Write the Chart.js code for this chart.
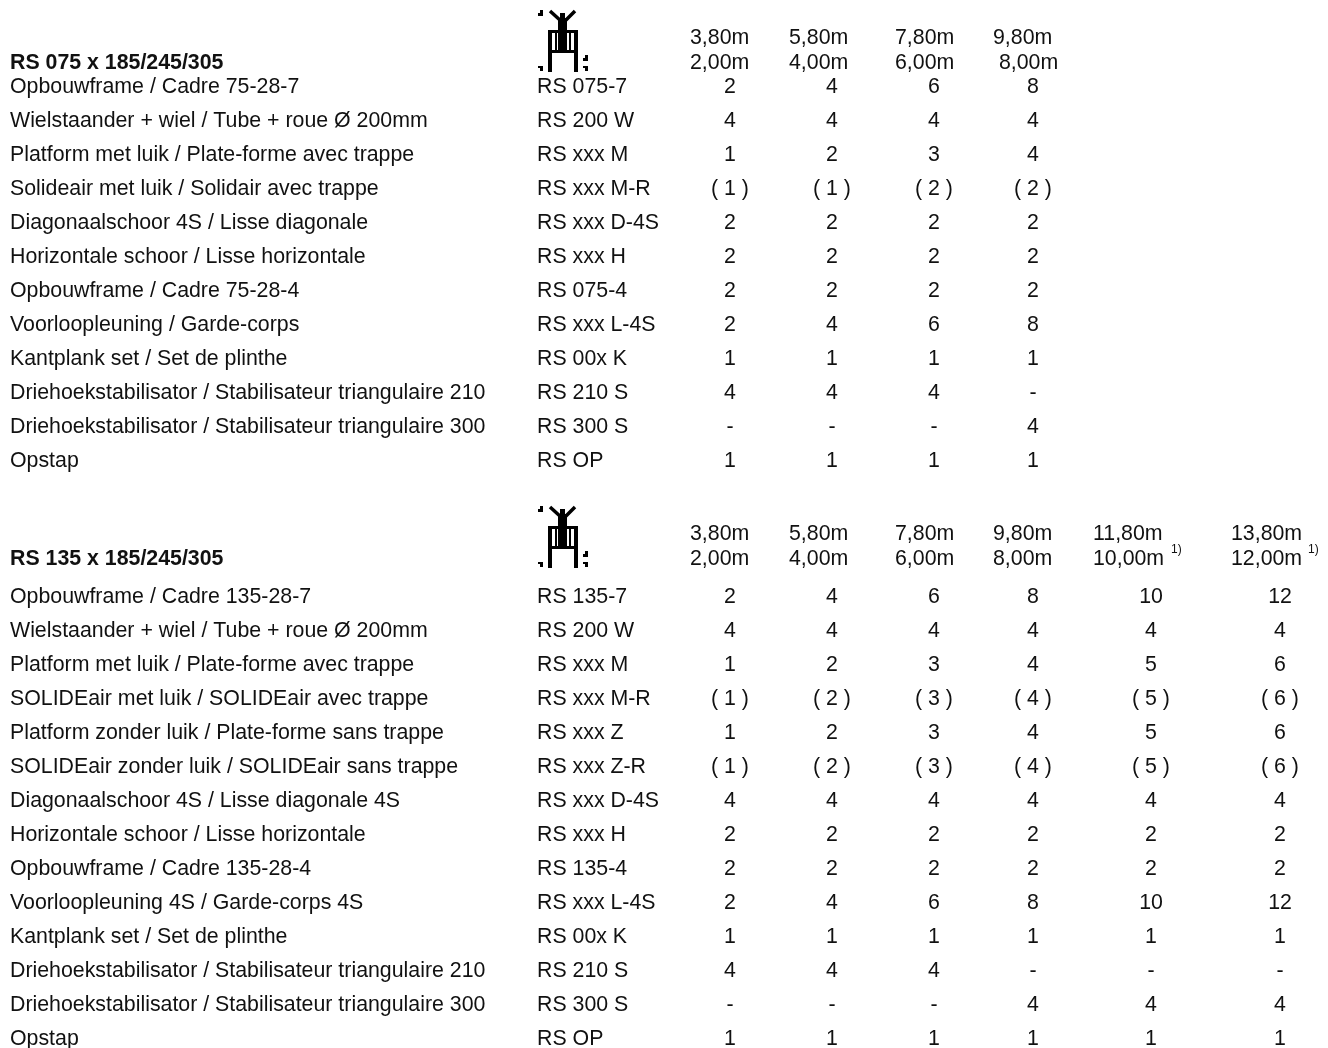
<!DOCTYPE html>
<html>
<head>
<meta charset="utf-8">
<style>
  html, body { margin: 0; padding: 0; background: #fff; }
  #wrap { width: 1328px; height: 1048px; }
</style>
<script src="https://cdn.jsdelivr.net/npm/chart.js@4"></script>
</head>
<body>
<div id="wrap"><canvas id="partsChart" width="1328" height="1048"></canvas></div>
<script>
// Table 1: RS 075
const title075 = "RS 075 x 185/245/305";
const heightsTop075 = ["3,80m", "5,80m", "7,80m", "9,80m"];
const heightsBottom075 = ["2,00m", "4,00m", "6,00m", " 8,00m"];
const parts075 = [
  "Opbouwframe / Cadre 75-28-7",
  "Wielstaander + wiel / Tube + roue Ø 200mm",
  "Platform met luik / Plate-forme avec trappe",
  "Solideair met luik / Solidair avec trappe",
  "Diagonaalschoor 4S / Lisse diagonale",
  "Horizontale schoor / Lisse horizontale",
  "Opbouwframe / Cadre 75-28-4",
  "Voorloopleuning / Garde-corps",
  "Kantplank set / Set de plinthe",
  "Driehoekstabilisator / Stabilisateur triangulaire 210",
  "Driehoekstabilisator / Stabilisateur triangulaire 300",
  "Opstap",
];
const codes075 = ["RS 075-7", "RS 200 W", "RS xxx M", "RS xxx M-R", "RS xxx D-4S", "RS xxx H", "RS 075-4", "RS xxx L-4S", "RS 00x K", "RS 210 S", "RS 300 S", "RS OP"];
const qty075_380 = ["2", "4", "1", "( 1 )", "2", "2", "2", "2", "1", "4", "-", "1"];
const qty075_580 = ["4", "4", "2", "( 1 )", "2", "2", "2", "4", "1", "4", "-", "1"];
const qty075_780 = ["6", "4", "3", "( 2 )", "2", "2", "2", "6", "1", "4", "-", "1"];
const qty075_980 = ["8", "4", "4", "( 2 )", "2", "2", "2", "8", "1", "-", "4", "1"];

// Table 2: RS 135
const title135 = "RS 135 x 185/245/305";
const heightsTop135 = ["3,80m", "5,80m", "7,80m", "9,80m", "11,80m", "13,80m"];
const heightsBottom135 = ["2,00m", "4,00m", "6,00m", "8,00m", "10,00m", "12,00m"];
const footnotes135 = ["1)", "1)"];
const parts135 = [
  "Opbouwframe / Cadre 135-28-7",
  "Wielstaander + wiel / Tube + roue Ø 200mm",
  "Platform met luik / Plate-forme avec trappe",
  "SOLIDEair met luik / SOLIDEair avec trappe",
  "Platform zonder luik / Plate-forme sans trappe",
  "SOLIDEair zonder luik / SOLIDEair sans trappe",
  "Diagonaalschoor 4S / Lisse diagonale 4S",
  "Horizontale schoor / Lisse horizontale",
  "Opbouwframe / Cadre 135-28-4",
  "Voorloopleuning 4S / Garde-corps 4S",
  "Kantplank set / Set de plinthe",
  "Driehoekstabilisator / Stabilisateur triangulaire 210",
  "Driehoekstabilisator / Stabilisateur triangulaire 300",
  "Opstap",
];
const codes135 = ["RS 135-7", "RS 200 W", "RS xxx M", "RS xxx M-R", "RS xxx Z", "RS xxx Z-R", "RS xxx D-4S", "RS xxx H", "RS 135-4", "RS xxx L-4S", "RS 00x K", "RS 210 S", "RS 300 S", "RS OP"];
const qty135_380 = ["2", "4", "1", "( 1 )", "1", "( 1 )", "4", "2", "2", "2", "1", "4", "-", "1"];
const qty135_580 = ["4", "4", "2", "( 2 )", "2", "( 2 )", "4", "2", "2", "4", "1", "4", "-", "1"];
const qty135_780 = ["6", "4", "3", "( 3 )", "3", "( 3 )", "4", "2", "2", "6", "1", "4", "-", "1"];
const qty135_980 = ["8", "4", "4", "( 4 )", "4", "( 4 )", "4", "2", "2", "8", "1", "-", "4", "1"];
const qty135_1180 = ["10", "4", "5", "( 5 )", "5", "( 5 )", "4", "2", "2", "10", "1", "-", "4", "1"];
const qty135_1380 = ["12", "4", "6", "( 6 )", "6", "( 6 )", "4", "2", "2", "12", "1", "-", "4", "1"];

// layout, y in row units (one row = 34px on the scales below)
const rowPx = 34;
const firstRowPx = 87;
const block2Row = 15;
const nameX = 10;
const codeX = 537;
const qtyX = [730, 832, 934, 1033, 1151, 1280];
const headX = [690, 789, 895, 993, 1093, 1231];
const noteX = [1171, 1308];
const iconX = 563;
const fontFamily = '"Liberation Sans", Arial, sans-serif';
const textSize = 21.33;

function textSet(texts, x, startRow, opts = {}) {
  return {
    data: texts.map((t, i) => ({ x: Array.isArray(x) ? x[i] : x, y: startRow + i })),
    texts,
    textAlign: opts.align || "center",
    font: `${opts.bold ? "bold " : ""}${opts.size || textSize}px ${fontFamily}`,
    pointRadius: 0,
    showLine: false,
  };
}

// the stick-figure scaffold symbol, as a point style
function makeIcon() {
  const c = document.createElement("canvas");
  c.width = 52;
  c.height = 66;
  const g = c.getContext("2d");
  g.fillStyle = "#000";
  g.strokeStyle = "#000";
  // small marks
  g.fillRect(3, 2, 3, 6);
  g.fillRect(1, 5, 5, 3);
  g.fillRect(1, 58, 5, 2);
  g.fillRect(3, 58, 3, 5);
  g.fillRect(46, 50, 5, 3);
  g.fillRect(48, 47, 3, 5);
  g.fillRect(46, 58, 5, 2);
  g.fillRect(48, 58, 3, 5);
  // frame
  g.fillRect(11, 22, 30, 3);
  g.fillRect(11, 22, 4, 42);
  g.fillRect(37, 22, 4, 42);
  g.fillRect(11, 42, 30, 3);
  g.fillRect(18, 24, 2, 19);
  g.fillRect(32, 24, 2, 19);
  // person
  g.fillRect(21, 10, 9, 35);
  g.fillRect(23, 5, 5, 6);
  g.lineWidth = 3.5;
  g.beginPath();
  g.moveTo(13, 3);
  g.lineTo(24, 13);
  g.moveTo(38, 3);
  g.lineTo(28, 13);
  g.stroke();
  return c;
}

const textPlugin = {
  id: "cellText",
  afterDatasetsDraw(chart) {
    const ctx = chart.ctx;
    ctx.save();
    ctx.fillStyle = "#111";
    ctx.textBaseline = "middle";
    chart.data.datasets.forEach((ds, d) => {
      if (!ds.texts) return;
      ctx.font = ds.font;
      ctx.textAlign = ds.textAlign;
      chart.getDatasetMeta(d).data.forEach((pt, i) => {
        ctx.fillText(ds.texts[i], pt.x, pt.y);
      });
    });
    ctx.restore();
  },
};

const head1Top = -49 / rowPx;
const head1Bottom = -24 / rowPx;
const head2Top = block2Row - 63 / rowPx;
const head2Bottom = block2Row - 38 / rowPx;

const datasets = [
  { data: [{ x: iconX, y: -46 / rowPx }, { x: iconX, y: block2Row - 60 / rowPx }], pointStyle: makeIcon(), showLine: false },
  textSet([title075], nameX, head1Bottom, { align: "left", bold: true }),
  textSet([title135], nameX, head2Bottom, { align: "left", bold: true }),
  textSet(parts075, nameX, 0, { align: "left" }),
  textSet(codes075, codeX, 0, { align: "left" }),
  textSet(parts135, nameX, block2Row, { align: "left" }),
  textSet(codes135, codeX, block2Row, { align: "left" }),
];
[qty075_380, qty075_580, qty075_780, qty075_980].forEach((q, i) => datasets.push(textSet(q, qtyX[i], 0)));
[qty135_380, qty135_580, qty135_780, qty135_980, qty135_1180, qty135_1380].forEach((q, i) => datasets.push(textSet(q, qtyX[i], block2Row)));
heightsTop075.forEach((t, i) => datasets.push(textSet([t], headX[i], head1Top, { align: "left" })));
heightsBottom075.forEach((t, i) => datasets.push(textSet([t], headX[i], head1Bottom, { align: "left" })));
heightsTop135.forEach((t, i) => datasets.push(textSet([t], headX[i], head2Top, { align: "left" })));
heightsBottom135.forEach((t, i) => datasets.push(textSet([t], headX[i], head2Bottom, { align: "left" })));
footnotes135.forEach((t, i) => datasets.push(textSet([t], noteX[i], head2Bottom - 0.26, { align: "left", size: 12 })));

new Chart(document.getElementById("partsChart"), {
  type: "scatter",
  data: { datasets },
  options: {
    responsive: false,
    animation: false,
    layout: { padding: 0, autoPadding: false },
    plugins: { legend: { display: false }, tooltip: { enabled: false } },
    scales: {
      x: { type: "linear", display: false, min: 0, max: 1328 },
      y: { type: "linear", display: false, reverse: true, min: -firstRowPx / rowPx, max: (1048 - firstRowPx) / rowPx },
    },
  },
  plugins: [textPlugin],
});
</script>
</body>
</html>
